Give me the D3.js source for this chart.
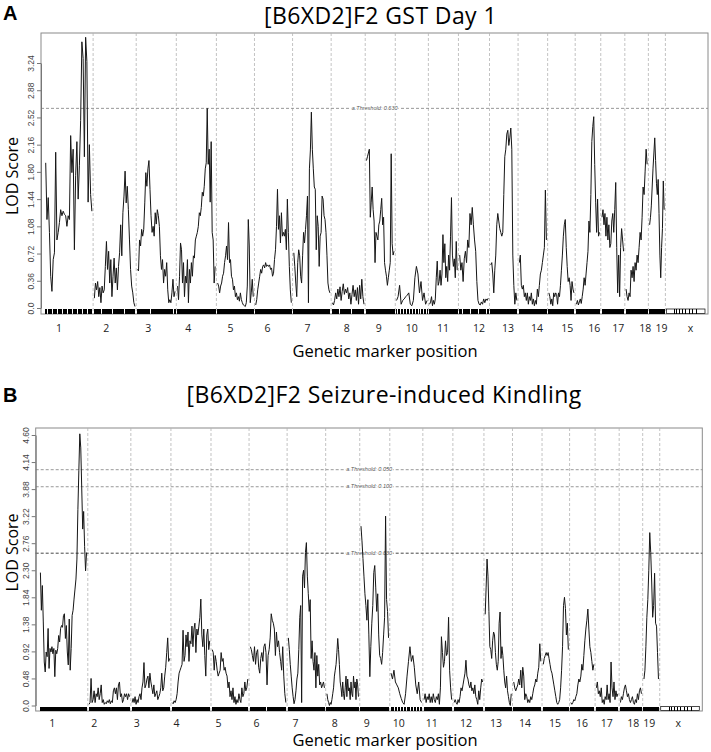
<!DOCTYPE html>
<html>
<head>
<meta charset="utf-8">
<script src="https://cdn.jsdelivr.net/npm/d3@7"></script>
<style>
  body { margin: 0; background: #fff; }
</style>
</head>
<body>
<div id="chart"></div>
<script>
// chromosome layout (cM, gap included)
var chrNames = ["1","2","3","4","5","6","7","8","9","10","11","12","13","14","15","16","17","18","19","x"];
var chrSpan = [104, 86, 80, 80, 76, 76, 77, 68, 60, 66, 60, 62, 57, 59, 55, 51, 48, 47, 34, 85];
var xChrMarkers = [19, 23, 29, 35, 41, 49, 55, 63];

// panel A: GST day 1, LOD per chromosome (markers left to right)
var gstLod = [
  [1.92,1.17,1.46,1.0,0.42,0.22,0.64,0.73,2.06,0.9,1.0,1.13,1.3,1.22,1.28,1.24,1.22,1.08,1.22,1.17,2.28,1.79,2.1,0.77,1.75,2.2,1.44,1.88,2.48,3.52,3.3,2.0,3.58,3.26,1.4,2.16,1.5,1.28],
  [0.13,0.33,0.24,0.35,0.15,0.27,0.07,0.29,0.2,0.24,0.55,0.88,0.51,0.75,0.33,0.64,0.15,0.42,0.66,0.33,0.53,0.24,0.55,0.73,1.1,0.69,1.26,1.48,1.81,1.39,1.61,1.3,0.9,0.51,0.29,0.2,0.07,0.02],
  [0.51,0.49,0.9,0.82,1.04,0.95,1.04,1.39,1.79,1.61,1.84,1.95,1.57,1.22,1.0,1.08,0.95,1.26,1.11,1.3,1.22,1.08,0.69,0.51,0.64,0.33,0.51,0.42,0.6,0.24,0.07,0.11,0.07,0.2,0.38,0.15,0.22],
  [0.29,0.11,0.42,0.86,0.77,0.33,0.6,0.15,0.42,0.33,0.64,0.07,0.51,0.33,0.6,0.42,0.69,0.66,0.9,0.95,1.0,1.08,1.26,1.22,1.33,1.53,1.48,1.61,1.84,1.92,2.64,1.9,2.1,1.4,2.2,1.0,0.9,0.33,0.55],
  [0.33,0.29,0.2,0.29,0.33,0.42,0.46,0.6,0.69,0.82,0.64,1.13,0.6,0.64,0.42,0.38,0.24,0.29,0.15,0.2,0.11,0.15,0.09,0.2,0.11,0.07,0.04,0.03,0.02,0.07,0.29,1.17,0.82,0.07,0.2,0.38,0.15],
  [0.04,0.11,0.24,0.33,0.42,0.51,0.46,0.55,0.57,0.53,0.6,0.55,0.57,0.55,0.57,0.51,0.53,0.42,0.46,0.64,0.77,1.08,1.57,1.04,1.22,0.86,1.26,0.95,1.0,0.95,1.04,0.77,1.44,1.0,0.55,0.24,0.07],
  [0.73,0.55,0.33,0.15,0.6,0.77,0.69,0.42,0.33,0.69,1.0,0.86,1.04,1.22,1.48,0.07,1.84,2.09,2.59,2.1,1.84,1.6,1.57,0.77,1.22,1.08,0.55,0.95,1.0,1.48,1.44,1.22,1.17,1.0,0.69,0.33,0.24,0.2],
  [0.07,0.04,0.1,0.2,0.12,0.25,0.15,0.28,0.1,0.22,0.32,0.18,0.25,0.2,0.27,0.12,0.2,0.05,0.18,0.3,0.15,0.24,0.1,0.27,0.05,0.3,0.12,0.38,0.15,0.05],
  [1.95,2.0,2.05,2.1,1.2,1.4,1.6,1.3,1.15,0.6,1.0,0.95,0.9,1.1,1.15,1.3,1.45,1.1,1.2,0.6,0.5,0.42,0.3,0.4,0.5,0.6,2.04,0.85,0.7,0.75],
  [0.1,0.15,0.3,0.05,0.1,0.12,0.15,0.17,0.2,0.05,0.03,0.1,0.4,0.55,0.45,0.2,0.35,0.1,0.2,0.05,0.1],
  [0.05,0.08,0.15,0.03,0.1,0.05,0.12,0.4,0.62,0.3,0.35,0.5,0.3,0.45,0.97,0.6,0.85,0.4,0.55,0.35,0.7,0.5,0.95,1.46,0.7,0.55,0.65,0.4,0.88,0.5],
  [0.7,0.5,0.6,0.35,0.65,0.75,0.6,0.9,0.8,1.25,1.1,1.33,1.1,0.9,0.75,0.35,0.1,0.05,0.04,0.08,0.05,0.12,0.07,0.12,0.1,0.13],
  [0.57,0.6,0.45,0.2,0.5,0.7,1.1,1.25,1.15,1.05,1.0,0.95,1.0,1.5,2.0,2.1,2.3,2.35,2.15,2.25,2.38,2.1,0.7,0.3,0.05,0.2,0.1],
  [0.6,0.7,0.3,0.25,0.3,0.15,0.2,0.1,0.2,0.05,0.15,0.1,0.2,0.05,0.12,0.03,0.1,0.05,0.25,0.15,0.3,0.45,0.5,0.6,0.7,0.8,1.56,0.9],
  [0.2,0.15,0.05,0.12,0.03,0.2,0.15,0.2,0.18,0.05,0.2,0.15,0.3,0.5,0.7,0.95,1.1,1.17,0.8,0.55,0.35,0.4,0.3,0.1,0.35,0.25,0.2],
  [0.05,0.1,0.04,0.08,0.12,0.06,0.15,0.25,0.4,0.3,0.45,0.6,0.75,1.15,1.0,1.5,2.2,2.4,2.53,1.9,1.4,1.0,1.44,0.95,1.0],
  [1.2,1.3,1.1,1.25,0.95,1.2,0.9,1.1,0.8,0.85,1.15,1.25,1.0,1.3,1.66,0.8,0.2,0.7,0.15,0.8,1.05,0.9,0.75],
  [0.25,0.15,0.1,0.2,0.15,0.5,0.4,0.55,0.35,0.6,0.5,0.7,0.6,0.8,1.0,0.9,1.2,1.6,1.5,1.8,2.1,1.9],
  [1.1,1.2,1.35,1.6,1.85,2.05,2.25,1.95,1.65,1.5,1.7,1.25,0.7,0.4,0.8,1.05,1.68,1.3]
];

// panel B: seizure-induced kindling
var kindLod = [
  [2.26,1.62,2.04,1.42,0.74,0.57,0.91,0.83,1.31,0.63,0.97,0.91,1.0,0.88,0.97,0.49,0.94,0.88,0.97,1.19,1.08,1.31,1.36,1.33,1.53,1.56,1.14,1.36,0.91,0.69,1.47,0.6,0.97,1.53,1.62,1.81,1.98,2.15,2.49,3.33,4.0,4.62,4.38,3.7,3.0,3.3,2.7,2.29,2.6],
  [0.02,0.05,0.46,0.05,0.1,0.25,0.05,0.2,0.15,0.3,0.1,0.2,0.35,0.05,0.1,0.02,0.05,0.03,0.08,0.05,0.1,0.03,0.08,0.05,0.25,0.3,0.2,0.3,0.1,0.35,0.4,0.15,0.2,0.05,0.1,0.2,0.15,0.2,0.1,0.2,0.15],
  [0.05,0.12,0.05,0.15,0.02,0.1,0.05,0.15,0.2,0.1,0.3,0.4,0.73,0.3,0.35,0.45,0.5,0.3,0.55,0.4,0.3,0.2,0.35,0.15,0.2,0.25,0.1,0.15,0.2,0.3,0.55,0.25,0.3,0.5,0.65,0.9,1.15,0.75,0.8],
  [0.05,0.03,0.08,0.05,0.1,0.2,0.4,0.55,0.6,0.65,0.7,1.28,0.75,0.85,1.2,1.0,1.25,0.75,1.1,1.05,1.35,1.0,1.3,1.4,0.9,1.3,1.2,1.35,1.5,1.81,1.2,1.0,1.3,0.85,0.5,1.2,1.3,0.95,1.1],
  [0.95,0.9,0.6,0.85,0.75,0.6,0.5,0.55,0.6,0.9,0.75,0.8,0.6,0.65,0.55,0.5,0.3,0.4,0.15,0.25,0.1,0.3,0.05,0.15,0.02,0.1,0.05,0.2,0.1,0.05,0.3,0.15,0.2,0.4,0.25,0.3,0.45],
  [1.0,0.95,0.85,0.75,1.0,0.7,0.9,0.95,0.65,0.55,0.8,0.9,0.75,1.0,1.05,0.9,0.35,0.85,0.95,1.15,1.56,1.45,1.4,1.3,0.85,1.25,1.0,1.1,0.9,0.75,0.6,1.0,0.5,0.2,0.05],
  [1.15,0.95,0.7,0.5,0.3,0.15,0.03,0.1,0.25,0.45,0.55,0.95,1.5,1.7,0.05,2.2,2.3,2.0,2.6,2.77,2.2,1.9,1.6,1.8,0.8,1.1,0.75,0.6,0.9,0.3,0.85,0.5,0.7,0.35,0.4,0.3,0.35,0.4,0.3],
  [0.2,0.1,0.05,0.0,0.05,0.02,0.1,0.2,0.3,0.5,0.6,0.7,0.9,1.14,0.95,0.7,0.4,0.3,0.15,0.4,0.2,0.1,0.3,0.5,0.15,0.45,0.25,0.3,0.1,0.4,0.2,0.15,0.5,0.3,0.4,0.1,0.45,0.35,0.15],
  [3.05,2.8,2.5,2.2,1.9,1.7,1.45,1.8,1.2,0.49,1.0,1.4,1.7,2.26,2.38,2.0,1.6,1.9,1.2,0.85,0.8,0.7,0.9,1.2,1.5,3.22,1.8,1.6,1.15],
  [0.55,0.45,0.6,0.4,0.35,0.3,0.2,0.12,0.05,0.02,0.2,0.5,0.75,1.0,0.75,0.85,0.65,0.35,0.2,0.4,0.1,0.05],
  [0.1,0.2,0.05,0.15,0.1,0.2,0.05,0.15,0.05,0.2,0.1,0.05,0.15,0.1,0.2,0.02,0.3,1.17,0.9,0.65,0.75,1.1,0.85,0.9,1.5,0.6,0.3,0.1],
  [0.05,0.1,0.05,0.02,0.1,0.05,0.15,0.3,0.25,0.35,0.45,0.55,0.77,0.5,0.45,0.35,0.3,0.4,0.25,0.3,0.2,0.35,0.15,0.1,0.02,0.25,0.1,0.3,0.45,0.4],
  [1.55,2.0,2.49,2.2,1.6,1.0,0.95,0.8,1.1,1.25,1.2,0.9,0.7,0.6,0.75,1.4,1.59,0.8,1.0,0.85,0.6,0.4,0.3,0.5,0.25,0.15,0.05,0.0,0.2],
  [0.4,0.3,0.25,0.3,0.35,0.45,0.35,0.6,0.3,0.65,0.5,0.1,0.2,0.15,0.05,0.1,0.05,0.15,0.1,0.2,0.3,0.35,0.45,0.4,0.55,0.65,1.05,0.75],
  [0.7,0.8,0.85,0.9,0.85,0.9,0.8,0.7,0.6,0.55,0.45,0.35,0.25,0.15,0.05,0.02,0.05,0.1,0.3,0.6,1.0,1.7,1.84,1.65,1.2,1.4,0.95],
  [0.05,0.02,0.05,0.1,0.08,0.15,0.2,0.35,0.45,0.4,0.5,0.7,0.6,0.85,1.1,1.3,1.45,1.64,1.3,1.0,0.9,0.75,0.6,0.7],
  [0.3,0.4,0.2,0.25,0.15,0.3,0.05,0.1,0.02,0.15,0.1,0.35,0.1,0.2,0.05,0.74,0.3,0.15,0.4,0.1,0.25,0.15,0.2],
  [0.05,0.15,0.1,0.2,0.3,0.35,0.25,0.15,0.2,0.1,0.05,0.1,0.15,0.05,0.02,0.1,0.05,0.2,0.1,0.25,0.3,0.2],
  [0.45,0.6,1.0,1.5,1.8,2.3,2.94,2.6,2.1,1.5,1.7,2.25,1.4,1.35,0.9,0.45]
];

// y ticks as printed on the figure
var gstTicks = [0, 0.36, 0.72, 1.08, 1.44, 1.80, 2.16, 2.52, 2.88, 3.24];
var gstTickLabels = ["0.0","0.36","0.72","1.08","1.44","1.80","2.16","2.52","2.88","3.24"];
var kindTicks = [0, 0.46, 0.92, 1.38, 1.84, 2.30, 2.76, 3.22, 3.68, 4.14, 4.60];
var kindTickLabels = ["0.0","0.48","0.92","1.38","1.84","2.30","2.76","3.22","3.88","4.14","4.60"];

// permutation thresholds
var gstThresh = [2.64];
var gstThreshLabels = ["a.Threshold: 0.630"];
var kindThresh = [4.01, 3.72, 2.59];
var kindThreshLabels = ["a.Threshold: 0.050", "a.Threshold: 0.100", "a.Threshold: 0.630"];
var kindThreshColors = ["#8c8c8c", "#8c8c8c", "#333"];

// chromosome label positions (cM) under each panel
var gstLabelPos = [36,130,214,294,378,452,532,610,674,740,802,874,932,990,1050,1104,1152,1206,1238,1296];
var kindLabelPos = [33,117,202,281,365,441,519,597,661,725,791,859,919,977,1037,1091,1140,1193,1225,1283];

var svg = d3.select("#chart").append("svg")
    .attr("width", 711)
    .attr("height", 752);

var totalCM = d3.sum(chrSpan);
var chrStart = [];
chrSpan.reduce(function(acc, s) { chrStart.push(acc); return acc + s; }, 0);

function drawPanel(p) {
    var x = d3.scaleLinear().domain([0, totalCM]).range([p.left, p.right]);
    var y = d3.scaleLinear().domain([0, d3.max(p.ticks)]).range([p.zeroY, p.topTickY]);

    var g = svg.append("g");

    // box
    g.append("rect")
        .attr("x", p.left).attr("y", p.top)
        .attr("width", p.right - p.left).attr("height", p.bottom - p.top)
        .attr("fill", "none").attr("stroke", "#8a8a8a").attr("stroke-width", 1);

    // chromosome separators
    g.selectAll(".sep")
        .data(chrStart.slice(1))
        .enter().append("line")
        .attr("x1", d => x(d)).attr("x2", d => x(d))
        .attr("y1", p.top).attr("y2", p.bottom)
        .attr("stroke", "#b4b4b4").attr("stroke-width", 0.8)
        .attr("stroke-dasharray", "3,2");

    // thresholds
    p.thresh.forEach(function(t, i) {
        g.append("line")
            .attr("x1", p.left).attr("x2", p.right)
            .attr("y1", y(t)).attr("y2", y(t))
            .attr("stroke", p.threshColors[i]).attr("stroke-width", 0.9)
            .attr("stroke-dasharray", "3,2");
        g.append("text")
            .attr("x", x(620)).attr("y", y(t) + 1.7)
            .attr("font-family", "Liberation Sans, Arial, sans-serif")
            .attr("font-size", "5.5px").attr("font-style", "italic")
            .attr("fill", "#555")
            .attr("stroke", "#fff").attr("stroke-width", 2).attr("paint-order", "stroke")
            .text(p.threshLabels[i]);
    });

    // LOD curves + marker rug
    var line = d3.line().x(d => x(d.pos)).y(d => y(d.lod));
    p.lod.forEach(function(vals, i) {
        var s = chrStart[i] + (i === 0 ? 9.4 : 2.5);
        var e = chrStart[i] + chrSpan[i] - 2.5;
        var pts = vals.map(function(v, j) {
            return { pos: s + (e - s) * j / (vals.length - 1), lod: v };
        });
        g.append("path").datum(pts)
            .attr("d", line)
            .attr("fill", "none").attr("stroke", "#161616").attr("stroke-width", 1);
        g.selectAll(null).data(pts).enter().append("line")
            .attr("x1", d => x(d.pos)).attr("x2", d => x(d.pos))
            .attr("y1", p.zeroY + 1).attr("y2", p.bottom)
            .attr("stroke", "#000").attr("stroke-width", 1)
            .attr("shape-rendering", "crispEdges");
    });

    // X chromosome: markers only
    var xs = chrStart[19];
    g.append("rect")
        .attr("x", x(xs + 2)).attr("y", p.zeroY + 1)
        .attr("width", x(xs + chrSpan[19] - 6) - x(xs + 2))
        .attr("height", p.bottom - p.zeroY - 1.5)
        .attr("fill", "#fff").attr("stroke", "#000").attr("stroke-width", 0.7);
    g.selectAll(null).data(xChrMarkers).enter().append("line")
        .attr("x1", d => x(xs + d)).attr("x2", d => x(xs + d))
        .attr("y1", p.zeroY + 1).attr("y2", p.bottom)
        .attr("stroke", "#000").attr("stroke-width", 1)
        .attr("shape-rendering", "crispEdges");

    // y axis
    var yAxis = d3.axisLeft(y)
        .tickValues(p.ticks)
        .tickFormat(function(d, i) { return p.tickLabels[i]; })
        .tickSizeInner(4).tickSizeOuter(0);
    var gy = g.append("g").attr("transform", "translate(" + p.left + ",0)").call(yAxis);
    gy.select(".domain").attr("stroke", "#777");
    gy.selectAll(".tick line").attr("stroke", "#777");
    gy.selectAll(".tick text")
        .attr("transform", "rotate(-90)")
        .attr("x", 0).attr("y", -7).attr("dy", 0)
        .attr("text-anchor", "middle")
        .attr("font-family", "Liberation Sans, Arial, sans-serif")
        .attr("font-size", "8.5px")
        .attr("fill", "#444");

    // chromosome labels
    g.selectAll(".chrlab")
        .data(chrNames)
        .enter().append("text")
        .attr("x", (d, i) => x(p.labelPos[i]))
        .attr("y", p.labelY)
        .attr("text-anchor", "middle")
        .attr("font-family", "Open Sans, sans-serif")
        .attr("font-size", "10.5px")
        .attr("fill", "#222")
        .text(d => d);

    // titles
    g.append("text")
        .attr("x", 3).attr("y", p.letterY)
        .attr("font-family", "Liberation Sans, Arial, sans-serif")
        .attr("font-weight", "bold").attr("font-size", "20px")
        .text(p.letter);
    g.append("text")
        .attr("x", p.titleX).attr("y", p.titleY)
        .attr("text-anchor", "middle")
        .attr("font-family", "Open Sans, sans-serif")
        .attr("font-size", "23px")
        .attr("letter-spacing", "0.4px")
        .text(p.title);
    g.append("text")
        .attr("transform", "translate(18," + p.lodY + ") rotate(-90)")
        .attr("text-anchor", "middle")
        .attr("font-family", "Open Sans, sans-serif")
        .attr("font-size", "16px")
        .text("LOD Score");
    g.append("text")
        .attr("x", 385).attr("y", p.xTitleY)
        .attr("text-anchor", "middle")
        .attr("font-family", "Open Sans, sans-serif")
        .attr("font-size", "16.5px")
        .text("Genetic marker position");
}

drawPanel({
    letter: "A", letterY: 20,
    title: "[B6XD2]F2 GST Day 1", titleX: 380.5, titleY: 24,
    left: 41, right: 708, top: 33, bottom: 314,
    zeroY: 308, topTickY: 63,
    ticks: gstTicks, tickLabels: gstTickLabels,
    thresh: gstThresh, threshLabels: gstThreshLabels, threshColors: ["#8c8c8c"],
    lod: gstLod, labelPos: gstLabelPos, labelY: 331.5,
    lodY: 176, xTitleY: 357
});

drawPanel({
    letter: "B", letterY: 402,
    title: "[B6XD2]F2 Seizure-induced Kindling", titleX: 384, titleY: 402.5,
    left: 35.7, right: 702.3, top: 428, bottom: 711,
    zeroY: 705.5, topTickY: 435,
    ticks: kindTicks, tickLabels: kindTickLabels,
    thresh: kindThresh, threshLabels: kindThreshLabels, threshColors: kindThreshColors,
    lod: kindLod, labelPos: kindLabelPos, labelY: 726.5,
    lodY: 552.5, xTitleY: 746
});
</script>
</body>
</html>
